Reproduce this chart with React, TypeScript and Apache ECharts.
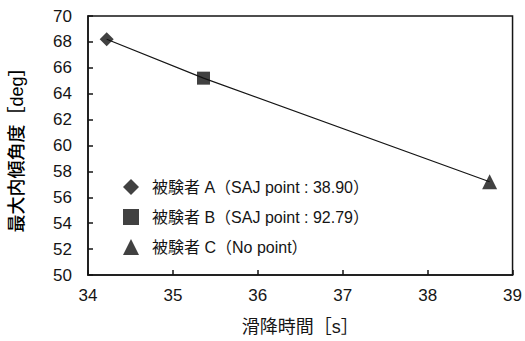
import React, { useEffect, useRef } from "react";
import * as echarts from "echarts";

const seriesNames = [
  "被験者 A（SAJ point : 38.90）",
  "被験者 B（SAJ point : 92.79）",
  "被験者 C（No point）",
];
const symbols = ["diamond", "rect", "triangle"];
const symbolSizes = [14, 13, 15];
const descentTimes = [34.22, 35.36, 38.73];
const maxInclination = [68.2, 65.2, 57.2];
const xTicks = { min: 34, max: 39, interval: 1 };
const yTicks = { min: 50, max: 70, interval: 2 };

const FONT = "'Liberation Sans', 'Noto Sans CJK JP', sans-serif";
const INK = "#151515";

export default function App() {
  const ref = useRef<HTMLDivElement>(null);
  useEffect(() => {
    if (!ref.current) return;
    const chart = echarts.init(ref.current, null, { renderer: "svg" });
    const scatter = seriesNames.map((name, i) => ({
      name,
      type: "scatter",
      symbol: symbols[i],
      symbolSize: symbolSizes[i],
      itemStyle: { color: "#111" },
      data: [[descentTimes[i], maxInclination[i]]],
      z: 3,
    }));
    chart.setOption({
      animation: false,
      textStyle: { fontFamily: FONT, color: INK },
      grid: {
        left: 86,
        right: 12,
        top: 16,
        bottom: 65,
        show: true,
        borderColor: INK,
        borderWidth: 1.5,
      },
      legend: {
        data: seriesNames,
        orient: "vertical",
        left: 118,
        top: 174,
        itemWidth: 16,
        itemHeight: 16,
        itemGap: 14,
        textStyle: { fontSize: 16, color: INK, fontFamily: FONT, padding: [0, 0, 0, 8] },
      },
      xAxis: {
        type: "value",
        min: xTicks.min,
        max: xTicks.max,
        interval: xTicks.interval,
        name: "滑降時間［s］",
        nameLocation: "middle",
        nameGap: 43,
        nameTextStyle: { fontSize: 18, color: INK, fontFamily: FONT },
        axisLine: { lineStyle: { color: INK, width: 1.5 } },
        axisTick: { inside: true, length: 5, lineStyle: { color: INK, width: 1.5 } },
        axisLabel: { fontSize: 17, color: INK, margin: 12, fontFamily: FONT },
        splitLine: { show: false },
      },
      yAxis: {
        type: "value",
        min: yTicks.min,
        max: yTicks.max,
        interval: yTicks.interval,
        name: "最大内傾角度［deg］",
        nameLocation: "middle",
        nameGap: 62,
        nameRotate: 90,
        nameTextStyle: { fontSize: 18, color: "#000", fontWeight: 500, fontFamily: FONT },
        axisLine: { show: true, lineStyle: { color: INK, width: 1.5 } },
        axisTick: { show: true, inside: true, length: 5, lineStyle: { color: INK, width: 1.5 } },
        axisLabel: { fontSize: 17, color: INK, margin: 16, fontFamily: FONT },
        splitLine: { show: false },
      },
      series: [
        {
          name: "trend",
          type: "line",
          symbol: "none",
          lineStyle: { color: INK, width: 1.2 },
          data: descentTimes.map((x, i) => [x, maxInclination[i]]),
          z: 2,
        },
        ...scatter,
      ],
    });
    return () => chart.dispose();
  }, []);
  return (
    <div
      ref={ref}
      style={{ position: "fixed", left: 0, top: 0, width: 525, height: 341, background: "#fff" }}
    />
  );
}
